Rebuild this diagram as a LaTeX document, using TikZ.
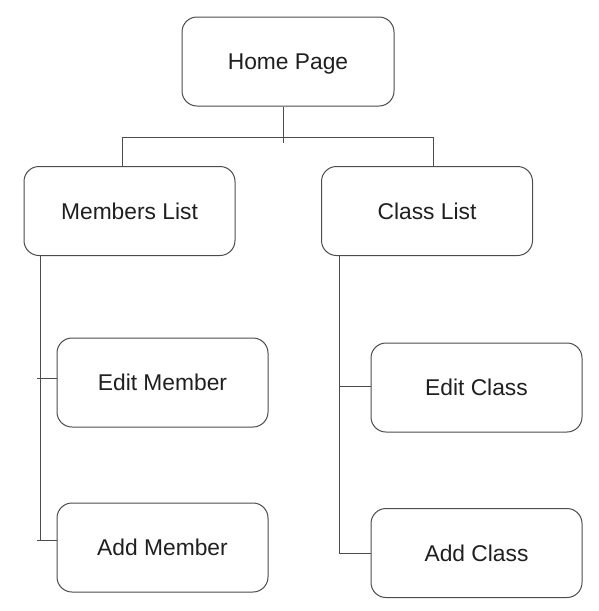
\documentclass[tikz,border=0pt]{standalone}
\usepackage{fontspec}
\setmainfont{Liberation Sans}

\begin{document}
\begin{tikzpicture}[x=1pt,y=-1pt,
	page/.style={draw=black!70,line width=1pt,rounded corners=15pt,minimum width=211pt,minimum height=89pt,inner sep=0pt,text height=16.3pt,text depth=0pt,text=black!88,font=\fontsize{22.8}{27}\selectfont},
	wire/.style={draw=black!70,line width=1pt}]
	\useasboundingbox (0,0) rectangle (598,611);
	\node[page,minimum width=212pt] (home) at (288,61.5) {Home Page};
	\node[page] (members) at (129.5,211) {Members List};
	\node[page] (classes) at (427,211) {Class List};
	\node[page] (editm) at (162.5,382.5) {Edit Member};
	\node[page] (addm) at (162.5,547.5) {Add Member};
	\node[page] (editc) at (476.5,387.5) {Edit Class};
	\node[page] (addc) at (476.5,553) {Add Class};

	\coordinate (hub) at (283,143);
	\coordinate (lbus) at (122,137);
	\coordinate (rbus) at (433,137);
	\draw[wire] (home.south -| hub) -- (hub);
	\draw[wire] (members.north -| lbus) -- (lbus) -- (rbus) -- (classes.north -| rbus);

	\coordinate (lend) at (40,540);
	\coordinate (rend) at (339,553);
	\draw[wire] (members.south -| lend) -- (lend);
	\draw[wire] (classes.south -| rend) -- (rend);
	\foreach \n/\x/\y in {editm/37/378,addm/37/540,editc/339/386,addc/339/553} {
		\coordinate (tick) at (\x,\y);
		\draw[wire] (tick) -- (tick -| \n.west);
	}
\end{tikzpicture}
\end{document}
